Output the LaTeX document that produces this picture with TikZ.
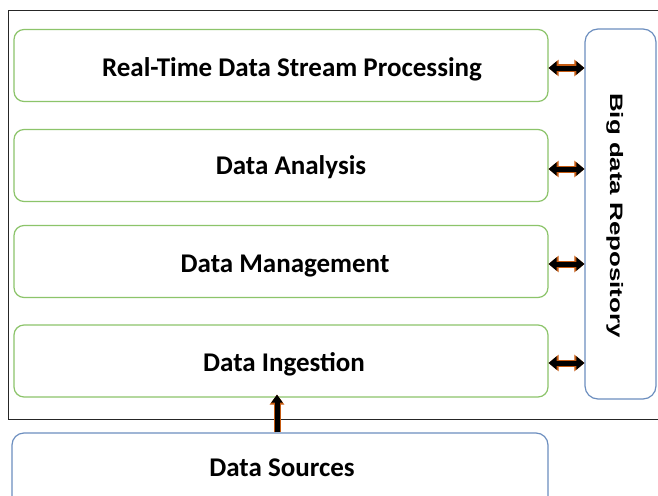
\documentclass[tikz,border=0pt]{standalone}
\usepackage{fontspec}
\setmainfont{Carlito}
\newfontfamily\repofont{Liberation Sans}
\usetikzlibrary{arrows.meta,calc}
\definecolor{boxgreen}{RGB}{140,196,106}
\definecolor{boxblue}{RGB}{108,142,191}
\definecolor{arrorange}{RGB}{197,90,17}
\begin{document}
\begin{tikzpicture}[x=1pt,y=-1pt,
  gbox/.style={draw=boxgreen, line width=1.2pt, rounded corners=10pt, minimum width=534pt, minimum height=72pt, inner sep=0pt},
  bbox/.style={draw=boxblue, line width=1.2pt, rounded corners=13pt, inner sep=0pt},
  lbl/.style={anchor=base, inner sep=0pt, font=\fontsize{27}{30}\selectfont\bfseries},
  frameline/.style={draw=black!85, line width=1.3pt},
  dblarrow/.style={line width=5pt, black, arrows={Triangle[width=13pt,length=8pt]-Triangle[width=13pt,length=8pt]},
    preaction={draw=arrorange, line width=7pt, arrows={Triangle[width=16pt,length=10pt]-Triangle[width=16pt,length=10pt]}}},
  uparrow/.style={line width=5pt, black, arrows={-Triangle[width=11pt,length=8pt]},
    preaction={draw=arrorange, line width=7pt, arrows={-Triangle[width=14pt,length=10pt]}}}
]
\clip (0,0) rectangle (658,495);
\fill[white] (0,0) rectangle (658,495);
% outer frame (open at the right)
\draw[frameline] (680,10.5) -- (8.5,10.5) -- (8.5,419.5) -- (680,419.5);
% layer boxes
\node[gbox] (b1) at (281,65.5) {};
\node[gbox] (b2) at (281,165.5) {};
\node[gbox] (b3) at (281,261.5) {};
\node[gbox] (b4) at (281,361) {};
\node[lbl] (t1) at (292,76) {Real-Time Data Stream Processing};
\node[lbl] (t2) at (291,174) {Data Analysis};
\node[lbl] (t3) at (285,272) {Data Management};
\node[lbl] (t4) at (284,371.5) {Data Ingestion};
% repository
\node[bbox, minimum width=71pt, minimum height=370pt] (repo) at (620.5,214) {};
\node[rotate=-90, anchor=base, inner sep=0pt, font=\repofont\fontsize{18}{20}\selectfont\bfseries] (rt) at (610,215.5) {\scalebox{1.44}[1]{Big data Repository}};
% data sources
\node[bbox, rounded corners=12pt, minimum width=536pt, minimum height=90pt] (src) at (280,478) {};
\node[lbl] (t5) at (282,476) {Data Sources};
% connectors
\draw[dblarrow] ([yshift=-2.5pt]b1.east) -- ([yshift=-2.5pt]b1.east -| repo.west);
\draw[dblarrow] ([yshift=-3.5pt]b2.east) -- ([yshift=-3.5pt]b2.east -| repo.west);
\draw[dblarrow] ([yshift=-2.5pt]b3.east) -- ([yshift=-2.5pt]b3.east -| repo.west);
\draw[dblarrow] ([yshift=-2pt]b4.east) -- ([yshift=-2pt]b4.east -| repo.west);
\draw[uparrow] ([xshift=-3pt]src.north) -- ([xshift=-3pt,yshift=3pt]src.north |- b4.south);
\end{tikzpicture}
\end{document}
